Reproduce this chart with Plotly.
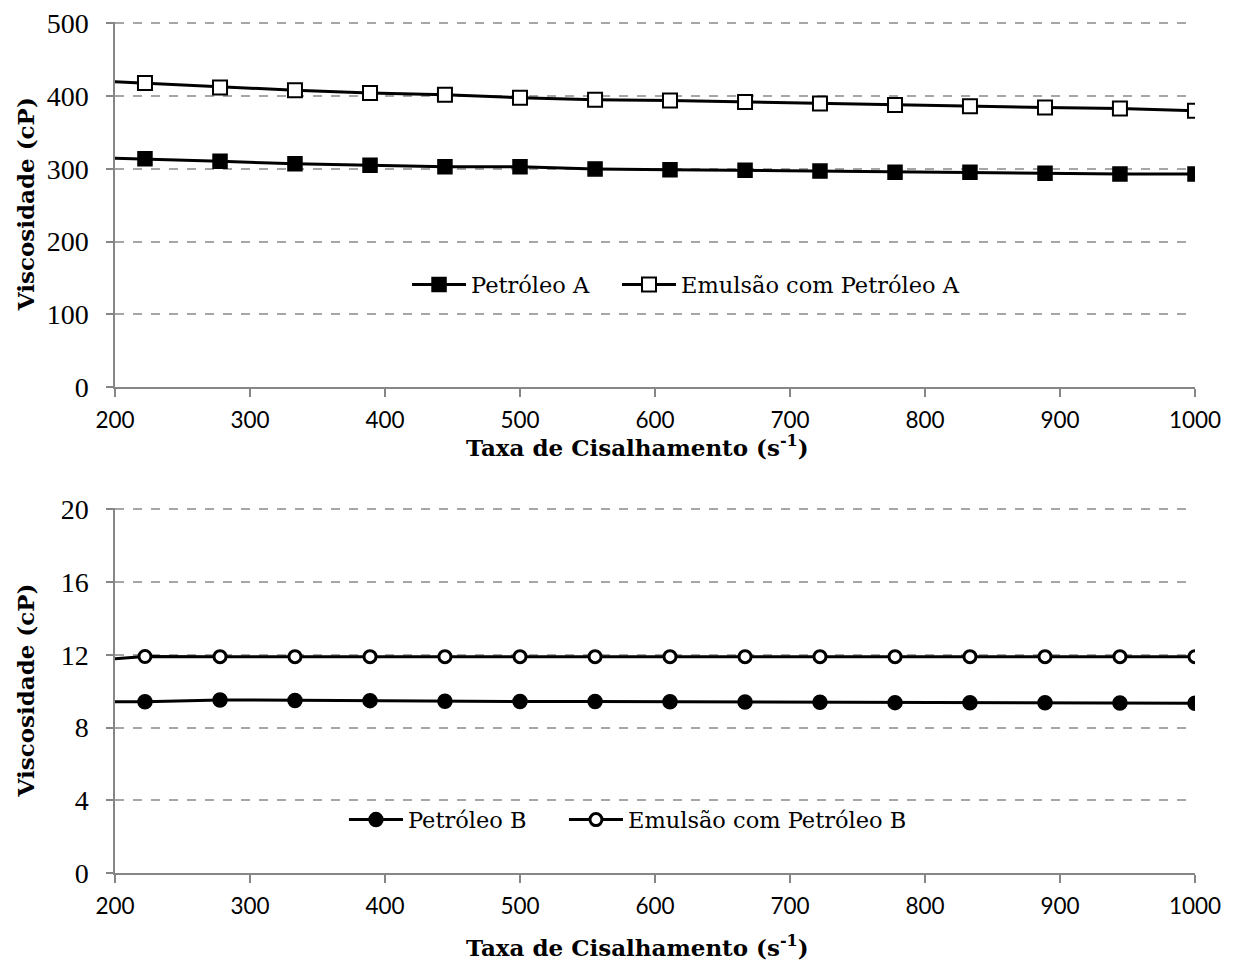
import plotly.graph_objects as go

# ---- data ----
shear = [166.7, 222.2, 277.8, 333.3, 388.9, 444.4, 500.0, 555.6, 611.1,
         666.7, 722.2, 777.8, 833.3, 888.9, 944.4, 1000.0]
petroleo_a = [316.5, 314, 310.5, 307, 305, 303, 303, 300, 299, 298, 297,
              295.5, 295.5, 294, 293, 293]
emulsao_a = [423, 418, 412, 408, 404.5, 402, 398, 395, 394, 392, 390, 388,
             386, 384.5, 383, 380]
petroleo_b = [9.42, 9.42, 9.52, 9.49, 9.48, 9.45, 9.43, 9.43, 9.42, 9.40,
              9.39, 9.37, 9.36, 9.36, 9.35, 9.34]
emulsao_b = [11.6, 11.91, 11.90, 11.90, 11.90, 11.90, 11.90, 11.90, 11.90,
             11.90, 11.90, 11.90, 11.90, 11.90, 11.90, 11.90]

x_ticks = [200, 300, 400, 500, 600, 700, 800, 900, 1000]
y_ticks_top = [0, 100, 200, 300, 400, 500]
y_ticks_bottom = [0, 4, 8, 12, 16, 20]

x_title = "<b>Taxa de Cisalhamento (s<sup>-1</sup>)</b>"
y_title = "<b>Viscosidade (cP)</b>"

SERIF = "DejaVu Serif"
TICKSERIF = "Liberation Serif"
SANS = "Lato"

fig = go.Figure()

fig.add_trace(go.Scatter(
    x=shear, y=petroleo_a, name="Petróleo A", mode="lines+markers",
    line=dict(color="black", width=3),
    marker=dict(symbol="square", size=14, color="black",
                line=dict(color="black", width=1.5)),
    xaxis="x", yaxis="y", legend="legend"))
fig.add_trace(go.Scatter(
    x=shear, y=emulsao_a, name="Emulsão com Petróleo A", mode="lines+markers",
    line=dict(color="black", width=3),
    marker=dict(symbol="square", size=14, color="white",
                line=dict(color="black", width=2)),
    xaxis="x", yaxis="y", legend="legend2"))
fig.add_trace(go.Scatter(
    x=shear, y=petroleo_b, name="Petróleo B", mode="lines+markers",
    line=dict(color="black", width=3),
    marker=dict(symbol="circle", size=14, color="black",
                line=dict(color="black", width=1.5)),
    xaxis="x2", yaxis="y2", legend="legend3"))
fig.add_trace(go.Scatter(
    x=shear, y=emulsao_b, name="Emulsão com Petróleo B", mode="lines+markers",
    line=dict(color="black", width=3),
    marker=dict(symbol="circle", size=12, color="white",
                line=dict(color="black", width=3)),
    xaxis="x2", yaxis="y2", legend="legend4"))

AX = "#868686"
GRID = "#a6a6a6"

def xaxis(anchor):
    return dict(
        anchor=anchor, domain=[0, 1], range=[200, 1000], automargin=False,
        tickvals=x_ticks, ticks="outside", ticklen=8, tickcolor=AX,
        tickwidth=1.5, showline=True, linecolor=AX, linewidth=1.5,
        showgrid=False, zeroline=False, ticklabelstandoff=4,
        ticklabeloverflow="allow",
        tickfont=dict(family=SANS, size=22.5, color="black"),
    )

def yaxis(anchor, domain, rng, ticks):
    return dict(
        anchor=anchor, domain=domain, range=rng, tickvals=ticks,
        automargin=False, ticklabeloverflow="allow",
        ticks="outside", ticklen=7, tickcolor=AX, tickwidth=1.5,
        showline=True, linecolor=AX, linewidth=1.5,
        showgrid=True, gridcolor=GRID, griddash="dash", gridwidth=1.5,
        zeroline=False, ticklabelstandoff=12,
        tickfont=dict(family=TICKSERIF, size=28, color="black"),
    )

title_font = dict(family=SERIF, size=23, color="black")
annotations = [
    dict(text=x_title, xref="paper", yref="paper", x=0.484, y=0.502,
         xanchor="center", yanchor="middle", showarrow=False, font=title_font),
    dict(text=x_title, xref="paper", yref="paper", x=0.484, y=-0.086,
         xanchor="center", yanchor="middle", showarrow=False, font=title_font),
    dict(text=y_title, xref="paper", yref="paper", x=-0.0833, y=0.786,
         xanchor="center", yanchor="middle", showarrow=False, textangle=-90,
         font=title_font),
    dict(text=y_title, xref="paper", yref="paper", x=-0.0833, y=0.2145,
         xanchor="center", yanchor="middle", showarrow=False, textangle=-90,
         font=title_font),
]

def legend(x, y):
    return dict(orientation="h", x=x, y=y, xanchor="left", yanchor="middle",
                bgcolor="rgba(0,0,0,0)",
                font=dict(family=SERIF, size=22.5, color="black"),
                itemwidth=54)

fig.update_layout(
    width=1237, height=963,
    margin=dict(l=107, r=50, t=14, b=98),
    paper_bgcolor="white", plot_bgcolor="white",
    xaxis=xaxis("y"),
    yaxis=yaxis("x", [0.571, 1.0], [0, 502], y_ticks_top),
    xaxis2=xaxis("y2"),
    yaxis2=yaxis("x2", [0.0, 0.429], [0, 20.08], y_ticks_bottom),
    legend=legend(0.2704, 0.691),
    legend2=legend(0.4648, 0.691),
    legend3=legend(0.212, 0.0623),
    legend4=legend(0.4157, 0.0623),
    annotations=annotations,
    showlegend=True,
)

fig.write_html("out.html")
